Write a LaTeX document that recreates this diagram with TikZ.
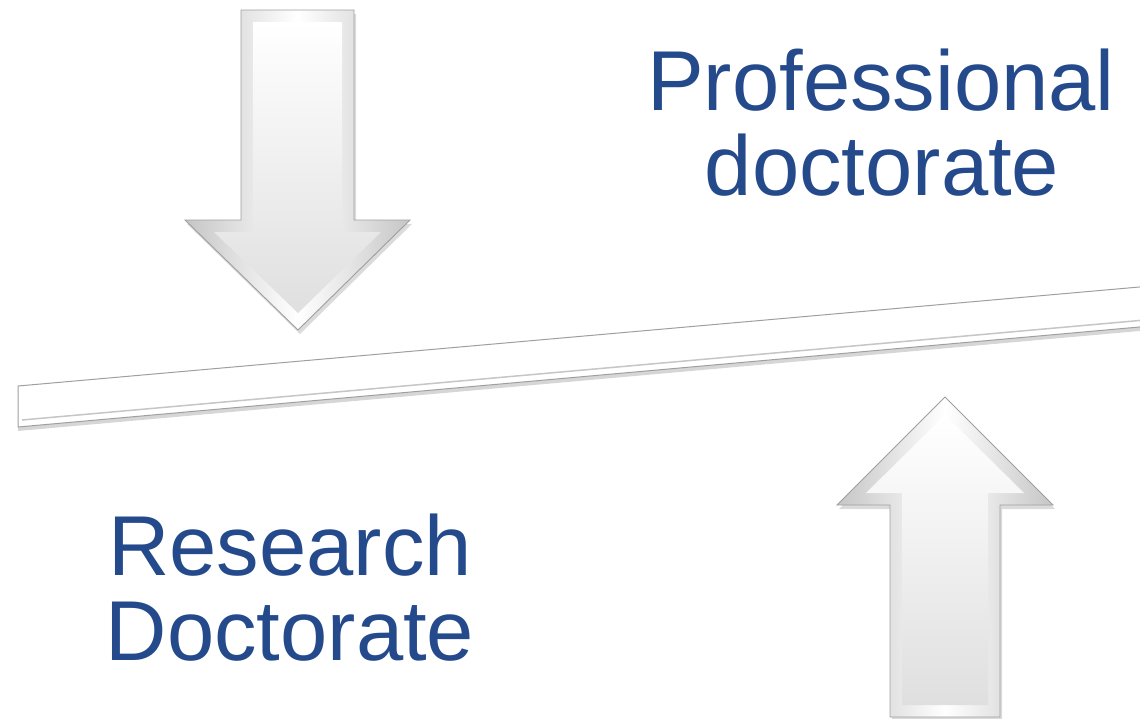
\documentclass[tikz,border=0pt]{standalone}
\usepackage{fontspec}
\setmainfont{Liberation Sans}
\usetikzlibrary{shadows}
\definecolor{txtblue}{HTML}{244A8C}
\tikzset{
  label text/.style={text=txtblue, font=\fontsize{85}{85}\selectfont, inner sep=0pt, anchor=base},
  arrow outer/.style={draw=gray!75, line width=0.9pt, left color=gray!45, right color=gray!45, middle color=white,
     drop shadow={shadow xshift=2pt, shadow yshift=-4pt, opacity=0.35, fill=gray!80}},
  arrow inner/.style={draw=none, top color=white, bottom color=gray!25},
  bar shape/.style={draw=gray!75, line width=1pt, fill=white,
     drop shadow={shadow xshift=0pt, shadow yshift=-4pt, opacity=0.4, fill=gray!80}},
}
\begin{document}
\begin{tikzpicture}[x=1pt,y=-1pt]
\useasboundingbox (0,0) rectangle (1140,718);
\begin{scope}
\clip (0,0) rectangle (1140,718);
% bar
\path[bar shape] (18,386) -- (1145,286.5) -- (1145,326.5) -- (18,427) -- cycle;
\draw[gray!45, line width=1.5pt] (22,420) -- (1145,320);
% down arrow
\path[arrow outer] (241,10) -- (354,10) -- (354,220) -- (410,220) -- (298,330) -- (185,220) -- (241,220) -- cycle;
\path[arrow inner] (253,22) -- (342,22) -- (342,232) -- (381,232) -- (298,313) -- (214,232) -- (253,232) -- cycle;
% up arrow
\path[arrow outer] (945,397) -- (1053,505) -- (1000,505) -- (1000,717) -- (890,717) -- (890,505) -- (837,505) -- cycle;
\path[arrow inner] (945,415) -- (1024,493) -- (988,493) -- (988,705) -- (902,705) -- (902,493) -- (866,493) -- cycle;
\end{scope}
% texts
\node[label text] (prof1) at (881,110) {Professional};
\node[label text] (prof2) at (882,195) {doctorate};
\node[label text] (res1) at (290,575) {Research};
\node[label text] (res2) at (290,660) {Doctorate};
\end{tikzpicture}
\end{document}
